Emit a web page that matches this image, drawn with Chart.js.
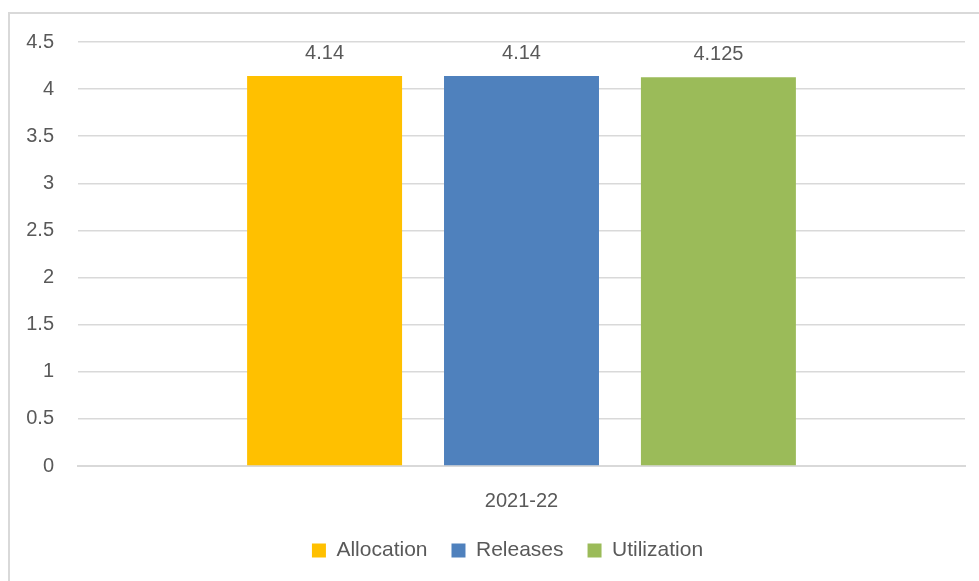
<!DOCTYPE html>
<html lang="en">
<head>
  <meta charset="utf-8"/>
  <title>Allocation, Releases and Utilization 2021-22</title>
  <script src="https://cdn.jsdelivr.net/npm/chart.js"></script>
  <style>
    html, body { margin: 0; padding: 0; background: #fff; overflow: hidden; }
    .frame {
      position: absolute; left: 8px; top: 12px;
      width: 1000px; height: 600px;
      border: 2px solid #d9d9d9;
      background: #fff;
    }
    /* canvas sits a little higher so the plot top lines up with the frame */
    canvas { position: absolute; left: 0; top: -8px; }
  </style>
</head>
<body>
  <div class="frame">
    <canvas id="chart" width="995" height="565" style="width:995px;height:565px"></canvas>
  </div>

  <script>
    // ── DATA ─────────────────────────────────────────
    const categories = ['2021-22'];
    const seriesNames = ['Allocation', 'Releases', 'Utilization'];
    const allocation = [4.14];
    const releases = [4.14];
    const utilization = [4.125];
    const colors = ['#FFC000', '#4F81BD', '#9BBB59'];
    // ─────────────────────────────────────────────────

    const FONT = "'Liberation Sans', Arial, sans-serif";
    const TEXT = '#595959';

    // draw the value above each bar
    const valueLabels = {
      id: 'valueLabels',
      afterDatasetsDraw(chart) {
        const ctx = chart.ctx;
        ctx.save();
        ctx.font = '20px ' + FONT;
        ctx.fillStyle = TEXT;
        ctx.textAlign = 'center';
        ctx.textBaseline = 'alphabetic';
        chart.data.datasets.forEach((ds, i) => {
          chart.getDatasetMeta(i).data.forEach((bar, j) => {
            ctx.fillText(String(ds.data[j]), bar.x, bar.y - 17);
          });
        });
        ctx.restore();
      }
    };

    // the original legend is centred on the whole (wider) chart frame
    const legendNudge = {
      id: 'legendNudge',
      afterLayout(chart) {
        const lg = chart.legend;
        if (lg) { lg.left += 20; lg.right += 20; }
      }
    };

    const values = [allocation, releases, utilization];
    new Chart(document.getElementById('chart'), {
      type: 'bar',
      data: {
        labels: categories,
        datasets: seriesNames.map((name, i) => ({
          label: name,
          data: values[i],
          backgroundColor: colors[i],
          borderWidth: 0,
          categoryPercentage: 0.666,
          barPercentage: 0.787
        }))
      },
      options: {
        responsive: false,
        animation: false,
        layout: { padding: { top: 0, right: 40, bottom: 0, left: 0 } },
        plugins: {
          tooltip: { enabled: false },
          legend: {
            position: 'bottom',
            labels: {
              font: { family: FONT, size: 21 },
              color: TEXT,
              boxWidth: 14,
              boxHeight: 14,
              padding: 24
            }
          }
        },
        scales: {
          x: {
            grid: { display: false, drawTicks: false },
            border: { color: '#d9d9d9', width: 2 },
            ticks: { font: { family: FONT, size: 20 }, color: TEXT, padding: 23 },
            afterFit(axis) { axis.height = 50; }
          },
          y: {
            min: 0,
            max: 4.5,
            ticks: {
              stepSize: 0.5,
              font: { family: FONT, size: 20 },
              color: TEXT,
              padding: 24,
              callback: v => String(v)
            },
            grid: { color: '#d9d9d9', lineWidth: 1.5, drawTicks: false },
            border: { display: false },
            afterFit(axis) { axis.width = 68; }
          }
        }
      },
      plugins: [valueLabels, legendNudge]
    });
  </script>
</body>
</html>
